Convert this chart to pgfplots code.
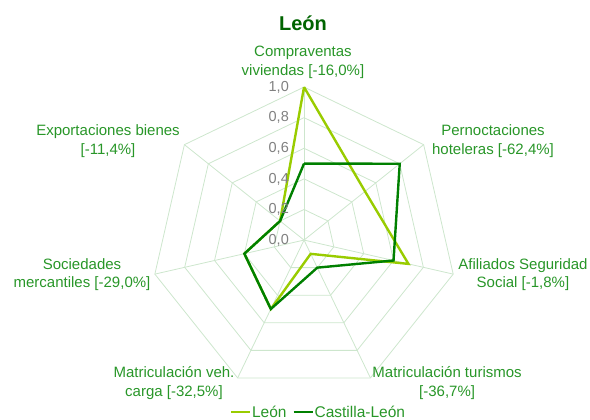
\documentclass[border=0pt]{standalone}
\usepackage{pgfplots}
\pgfplotsset{compat=1.18}
\usepackage{fontspec}
\setmainfont{Liberation Sans}
\definecolor{leon}{RGB}{153,204,0}
\definecolor{cyl}{RGB}{0,128,0}
\definecolor{lab}{RGB}{40,150,40}
\definecolor{ttl}{RGB}{0,100,0}
\definecolor{gridc}{RGB}{205,230,205}
\definecolor{tickc}{RGB}{128,128,128}
\begin{document}
\begin{tikzpicture}
\begin{axis}[
  x=153pt, y=153pt,
  xmin=-1.987, xmax=1.869, ymin=-1.170, ymax=1.569,
  hide axis, clip=false,
  legend style={at={(axis cs:0.092,-1.124)}, anchor=center, draw=none, fill=none,
    legend columns=2, font=\fontsize{15.5}{17}\selectfont, text=lab,
    /tikz/every even column/.append style={column sep=5pt},
    /tikz/every odd column/.append style={column sep=0pt},
    inner sep=0pt, nodes={inner sep=1pt}},
  legend image code/.code={\draw[#1,line width=2pt] (0pt,0pt) -- (19pt,0pt);},
]
\path (rel axis cs:0,0) rectangle (rel axis cs:1,1);
% grid rings
\pgfplotsinvokeforeach{0.2,0.4,0.6,0.8,1.0}{
  \addplot[gridc, line width=0.8pt, data cs=polar, forget plot] coordinates {
    (90,#1) (38.5714,#1) (-12.8571,#1) (-64.2857,#1) (-115.7143,#1) (-167.1429,#1) (141.4286,#1) (90,#1)};
}
% spokes
\pgfplotsinvokeforeach{90,38.5714,-12.8571,-64.2857,-115.7143,-167.1429,141.4286}{
  \addplot[gridc, line width=0.8pt, data cs=polar, forget plot] coordinates {(#1,0) (#1,1)};
}
% series
\addplot[leon, line width=2.4pt, data cs=polar, line join=miter] coordinates {
  (90,1.00) (38.5714,0.51) (-12.8571,0.70) (-64.2857,0.10) (-115.7143,0.50) (-167.1429,0.40) (141.4286,0.20) (90,1.00)};
\addlegendentry{León}
\addplot[cyl, line width=2.4pt, data cs=polar, line join=miter] coordinates {
  (90,0.50) (38.5714,0.80) (-12.8571,0.60) (-64.2857,0.20) (-115.7143,0.50) (-167.1429,0.40) (141.4286,0.20) (90,0.50)};
\addlegendentry{Castilla-León}
% tick labels
\tikzset{ticklab/.style={anchor=east, text=tickc, font=\fontsize{14.5}{16}\selectfont, inner sep=0pt}}
\node[ticklab] at (axis cs:-0.098,0) {0,0};
\node[ticklab] at (axis cs:-0.098,0.2) {0,2};
\node[ticklab] at (axis cs:-0.098,0.4) {0,4};
\node[ticklab] at (axis cs:-0.098,0.6) {0,6};
\node[ticklab] at (axis cs:-0.098,0.8) {0,8};
\node[ticklab] at (axis cs:-0.098,1.0) {1,0};
% category labels
\tikzset{catlab/.style={text=lab, font=\fontsize{15}{18.5}\selectfont, align=center, inner sep=0pt}}
\node[catlab] at (axis cs:-0.007,1.163) {Compraventas\\viviendas [-16,0\%]};
\node[catlab] at (axis cs:1.235,0.647) {Pernoctaciones\\hoteleras [-62,4\%]};
\node[catlab] at (axis cs:1.431,-0.225) {Afiliados Seguridad\\Social [-1,8\%]};
\node[catlab] at (axis cs:0.935,-0.935) {Matriculación turismos\\{}[-36,7\%]};
\node[catlab] at (axis cs:-0.850,-0.935) {Matriculación veh.\\carga [-32,5\%]};
\node[catlab] at (axis cs:-1.451,-0.225) {Sociedades\\mercantiles [-29,0\%]};
\node[catlab] at (axis cs:-1.281,0.647) {Exportaciones bienes\\{}[-11,4\%]};
% title
\node[text=ttl, font=\fontsize{20}{22}\selectfont\bfseries, inner sep=0pt] at (axis cs:-0.007,1.418) {León};
\end{axis}
\end{tikzpicture}
\end{document}
